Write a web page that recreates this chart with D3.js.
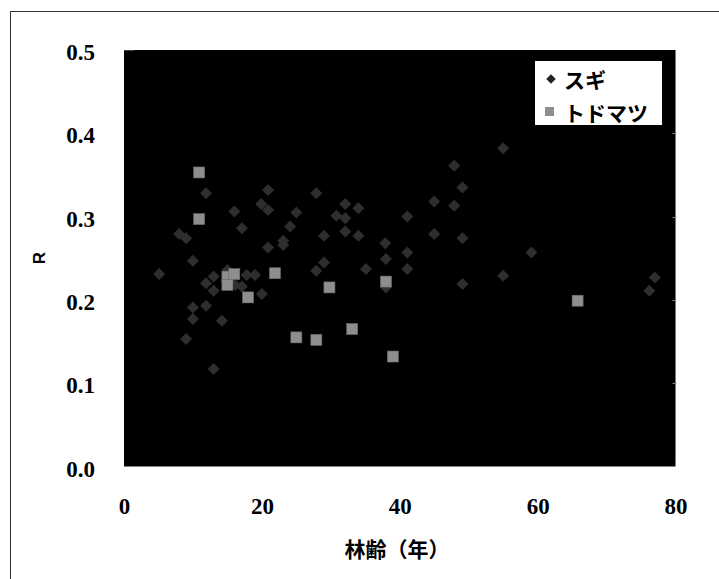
<!DOCTYPE html>
<html><head><meta charset="utf-8">
<script src="https://cdn.jsdelivr.net/npm/d3@7"></script>
<style>body{margin:0;background:#fff;}svg{display:block;}
.num{font-family:"Liberation Serif","Times New Roman",serif;font-weight:bold;font-size:23px;fill:#000;}
.jp{font-family:"Noto Sans CJK JP","Noto Sans",sans-serif;font-weight:bold;}
</style>
</head><body>
<script>
// スギ (Japanese cedar): stand age and R
const sugiAge = [5.1,8.0,9.0,9.0,10.0,10.0,10.0,11.9,11.9,11.9,13.0,13.0,13.0,14.2,15.0,16.0,16.1,17.1,17.1,17.8,19.0,19.9,20.0,20.9,20.9,20.9,23.1,23.1,24.1,25.0,27.9,27.9,29.0,29.0,30.8,32.1,32.1,32.1,34.0,34.0,35.1,37.9,38.0,38.0,41.1,41.1,41.1,45.0,45.0,47.9,47.9,49.1,49.1,49.1,55.0,55.0,59.1,76.2,77.0];
const sugiR   = [0.231,0.279,0.274,0.153,0.247,0.191,0.177,0.328,0.220,0.193,0.228,0.211,0.117,0.175,0.236,0.306,0.218,0.286,0.216,0.230,0.230,0.315,0.207,0.332,0.308,0.263,0.271,0.266,0.288,0.305,0.328,0.235,0.277,0.245,0.301,0.315,0.298,0.282,0.310,0.277,0.237,0.268,0.249,0.215,0.300,0.257,0.237,0.318,0.279,0.361,0.313,0.335,0.274,0.219,0.382,0.229,0.257,0.211,0.227];
// トドマツ (Sakhalin fir)
const todoAge = [10.9,10.9,15.0,15.0,16.0,18.0,21.9,25.0,27.9,29.8,33.1,38.0,39.0,65.8];
const todoR   = [0.353,0.297,0.228,0.218,0.231,0.203,0.232,0.155,0.152,0.215,0.165,0.222,0.132,0.199];
const xTicks = [0,20,40,60,80];
const yTicks = [0,0.1,0.2,0.3,0.4,0.5];
const seriesNames = ["スギ","トドマツ"];
const xTitle = "林齢（年）";
const yTitle = "R";

const W = 719, H = 579;
const svg = d3.select("body").append("svg").attr("width", W).attr("height", H);
const L = 124, R = 675.5, T = 50, B = 466.5;
const x = d3.scaleLinear().domain([0,80]).range([L,R]);
const y = d3.scaleLinear().domain([0,0.5]).range([B,T]);

// outer frame
svg.append("rect").attr("x",10.5).attr("y",11.5).attr("width",800).attr("height",700)
  .attr("fill","none").attr("stroke","#333").attr("stroke-width",1);

// plot area
svg.append("rect").attr("x",L).attr("y",T).attr("width",R-L).attr("height",B-T).attr("fill","#000");
svg.append("line").attr("x1",R).attr("x2",R).attr("y1",T).attr("y2",B-8).attr("stroke","#777").attr("stroke-width",1);
svg.append("line").attr("x1",L).attr("x2",L+10).attr("y1",T+0.5).attr("y2",T+0.5).attr("stroke","#444");
svg.selectAll(".rt").data(yTicks.slice(1,5)).join("line")
  .attr("x1",R-3).attr("x2",R+1).attr("y1",d=>Math.round(y(d))+0.5).attr("y2",d=>Math.round(y(d))+0.5)
  .attr("stroke","#888");

// axes (labels only)
const yAxis = d3.axisLeft(y).tickValues(yTicks).tickFormat(d3.format(".1f")).tickSize(0).tickPadding(29);
const gy = svg.append("g").attr("transform",`translate(${L},0)`).call(yAxis)
  .attr("font-family",null).attr("font-size",null);
gy.select(".domain").remove();
gy.selectAll("text").attr("class","num").attr("fill",null).attr("dy","0.42em");

const xAxis = d3.axisBottom(x).tickValues(xTicks).tickFormat(d3.format("d")).tickSize(0).tickPadding(31);
const gx = svg.append("g").attr("transform",`translate(0,${B})`).call(xAxis)
  .attr("font-family",null).attr("font-size",null);
gx.select(".domain").remove();
gx.selectAll("text").attr("class","num").attr("fill",null);

// titles
svg.append("text").attr("class","jp").attr("x",397).attr("y",548).attr("text-anchor","middle")
  .attr("dominant-baseline","central").style("font-size","21px").text(xTitle);
svg.append("text").attr("transform","translate(39,258) rotate(-90)").attr("text-anchor","middle")
  .attr("dominant-baseline","central").style("font-family","'Liberation Sans',Arial,sans-serif")
  .style("font-weight","bold").style("font-size","17px").text(yTitle);

// data marks
const sugi = sugiAge.map((a,i)=>({a, r:sugiR[i]}));
const todo = todoAge.map((a,i)=>({a, r:todoR[i]}));
const dsym = d3.symbol().type(d3.symbolSquare).size(72);
svg.append("g").selectAll("path").data(sugi).join("path")
  .attr("d", dsym)
  .attr("transform", d=>`translate(${x(d.a)},${y(d.r)}) rotate(45)`)
  .attr("fill","#2e2e2e");
svg.append("g").selectAll("rect").data(todo).join("rect")
  .attr("x", d=>x(d.a)-5.5).attr("y", d=>y(d.r)-5.5).attr("width",11).attr("height",11)
  .attr("fill","#8e8e8e").attr("stroke","#6a6a6a").attr("stroke-width",0.6);

// legend
const lg = svg.append("g");
lg.append("rect").attr("x",534.5).attr("y",60.5).attr("width",128).attr("height",65)
  .attr("fill","#fff").attr("stroke","#000").attr("stroke-width",1);
lg.append("path").attr("d", d3.symbol().type(d3.symbolSquare).size(45))
  .attr("transform","translate(551,79) rotate(45)").attr("fill","#222");
lg.append("rect").attr("x",545).attr("y",107).attr("width",9).attr("height",9).attr("fill","#8e8e8e");
lg.selectAll("text").data(seriesNames).join("text").attr("class","jp")
  .attr("x",564).attr("y",(d,i)=>79+i*33).attr("dominant-baseline","central")
  .style("font-size","21px").text(d=>d);
</script>
</body></html>
